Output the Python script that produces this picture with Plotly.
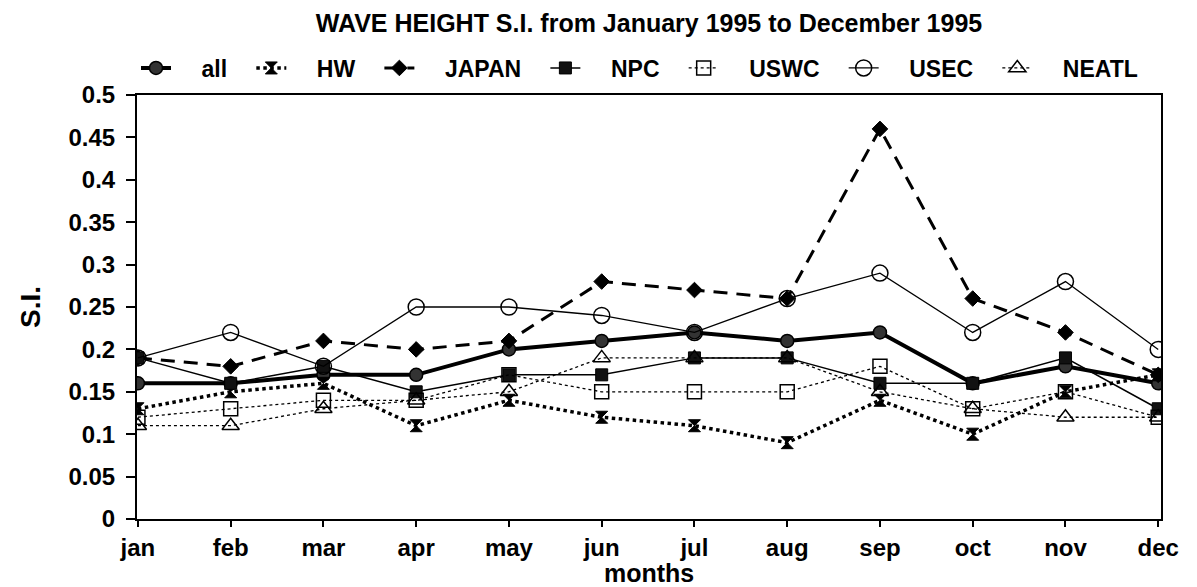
import plotly.graph_objects as go

months = ["jan", "feb", "mar", "apr", "may", "jun", "jul", "aug", "sep", "oct", "nov", "dec"]
all_si = [0.16, 0.16, 0.17, 0.17, 0.20, 0.21, 0.22, 0.21, 0.22, 0.16, 0.18, 0.16]
hw = [0.13, 0.15, 0.16, 0.11, 0.14, 0.12, 0.11, 0.09, 0.14, 0.10, 0.15, 0.17]
japan = [0.19, 0.18, 0.21, 0.20, 0.21, 0.28, 0.27, 0.26, 0.46, 0.26, 0.22, 0.17]
npc = [0.19, 0.16, 0.18, 0.15, 0.17, 0.17, 0.19, 0.19, 0.16, 0.16, 0.19, 0.13]
uswc = [0.12, 0.13, 0.14, 0.14, 0.17, 0.15, 0.15, 0.15, 0.18, 0.13, 0.15, 0.12]
usec = [0.19, 0.22, 0.18, 0.25, 0.25, 0.24, 0.22, 0.26, 0.29, 0.22, 0.28, 0.20]
neatl = [0.11, 0.11, 0.13, 0.14, 0.15, 0.19, 0.19, 0.19, 0.15, 0.13, 0.12, 0.12]

FONT = "Liberation Sans, Arial, sans-serif"
NB = "\u00a0"

series = [
    ("all", all_si, dict(color="black", width=4, dash="solid"),
     dict(symbol="circle", size=13, color="#333", line=dict(color="black", width=1.5))),
    ("HW", hw, dict(color="black", width=3.5, dash="dot"),
     dict(symbol="hourglass", size=12, color="black", line=dict(color="black", width=1))),
    ("JAPAN", japan, dict(color="black", width=3, dash="14px,9px"),
     dict(symbol="diamond", size=12, color="black", line=dict(color="black", width=1))),
    ("NPC", npc, dict(color="black", width=1.5, dash="solid"),
     dict(symbol="square", size=12, color="#111", line=dict(color="black", width=1))),
    ("USWC", uswc, dict(color="black", width=1.3, dash="dot"),
     dict(symbol="square-open", size=14, color="black", line=dict(color="black", width=1.5))),
    ("USEC", usec, dict(color="black", width=1.3, dash="solid"),
     dict(symbol="circle-open", size=16, color="black", line=dict(color="black", width=1.5))),
    ("NEATL", neatl, dict(color="black", width=1.3, dash="dot"),
     dict(symbol="triangle-up-open", size=15, color="black", line=dict(color="black", width=1.5))),
]

fig = go.Figure()
for name, vals, ln, mk in series:
    fig.add_trace(go.Scatter(x=months, y=vals, name=NB * 4 + name + NB * 3,
                             mode="lines+markers", line=ln, marker=mk))

fig.add_annotation(text="months", xref="paper", yref="paper",
                   x=0.5, y=(519 - 573) / 424, xanchor="center", yanchor="middle",
                   showarrow=False, font=dict(size=25, family=FONT, weight="bold"))
fig.add_annotation(text="S.I.", xref="paper", yref="paper",
                   x=(30 - 137) / 1024, y=0.5, xanchor="center", yanchor="middle",
                   textangle=-90, showarrow=False,
                   font=dict(size=28, family=FONT, weight="bold"))

fig.update_layout(
    width=1197, height=587,
    margin=dict(l=137, r=36, t=95, b=68, autoexpand=False),
    paper_bgcolor="white", plot_bgcolor="white",
    font=dict(family=FONT, size=20, color="black", weight="bold"),
    title=dict(text="WAVE HEIGHT S.I. from January 1995 to December 1995",
               x=0.5, xref="paper", xanchor="center",
               y=1 - 23 / 587, yref="container", yanchor="middle",
               font=dict(size=25, family=FONT, weight="bold")),
    showlegend=True,
    legend=dict(orientation="h", x=0.5, xanchor="center", y=(519 - 68) / 424, yanchor="middle",
                font=dict(size=23, family=FONT, weight="bold"),
                bgcolor="rgba(0,0,0,0)", tracegroupgap=0),
    xaxis=dict(
        range=[-0.01, 11.03], automargin=False,
        showline=True, linecolor="black", linewidth=2, mirror=True,
        ticks="outside", ticklen=6, tickwidth=1.5, tickcolor="black",
        showgrid=False, zeroline=False,
        tickfont=dict(size=24, family=FONT, weight="bold"),
    ),
    yaxis=dict(
        range=[0, 0.5], dtick=0.05, tick0=0, automargin=False,
        showline=True, linecolor="black", linewidth=2, mirror=True,
        ticks="outside", ticklen=9, tickwidth=1.5, tickcolor="black",
        ticklabelstandoff=6,
        showgrid=False, zeroline=False,
        tickfont=dict(size=24, family=FONT, weight="bold"),
    ),
)

fig.write_html("out.html", config={"displayModeBar": False},
               post_script="document.body.style.margin='0';document.body.style.overflow='hidden';")
